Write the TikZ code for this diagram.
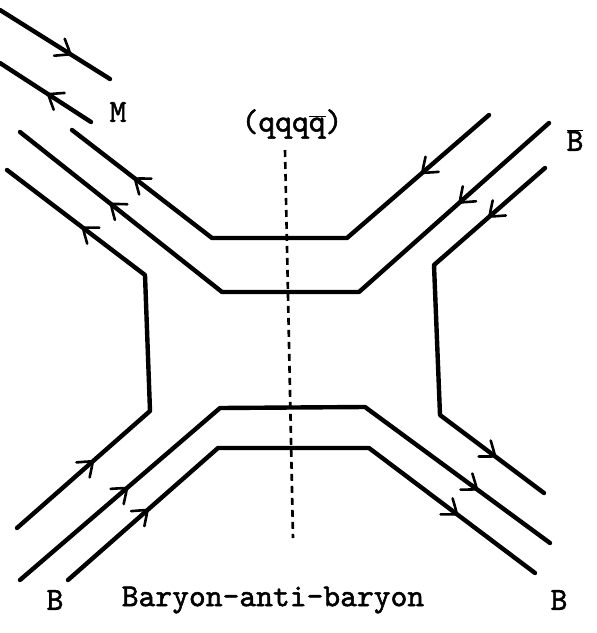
\documentclass[tikz,border=0pt]{standalone}
\usepackage{fontspec}
\newfontfamily\typewriter{lmmono10-regular.otf}[FakeBold=1.6]
\usetikzlibrary{decorations.markings}
\newcommand\barred[1]{$\overline{\hbox{#1}}$}
\tikzset{
  quark/.style={line width=4.4pt,line cap=round,line join=round},
  flow/.style={decoration={markings,mark=at position #1 with {\draw[line width=2.6pt,line cap=round,line join=round] (-13pt,10pt) .. controls (-5pt,4pt) .. (0,0) .. controls (-5pt,-4pt) .. (-13pt,-10pt);}},postaction={decorate}},
  cut/.style={line width=2.6pt,dash pattern=on 7pt off 5pt},
  lab/.style={font=\fontsize{32}{34}\selectfont\typewriter,inner sep=0pt}
}
\begin{document}
\begin{tikzpicture}[x=1pt,y=-1pt]
\useasboundingbox (0,0) rectangle (597,633);
% meson lines
\coordinate (m1a) at (0,10);   \coordinate (m1b) at (110,79);
\coordinate (m2a) at (0,63);   \coordinate (m2b) at (91,122);
% line A
\coordinate (a1) at (72,130);  \coordinate (a2) at (212,238);
\coordinate (a3) at (347,238); \coordinate (a4) at (489,115);
% line B
\coordinate (b1) at (20,132);  \coordinate (b2) at (222,292);
\coordinate (b3) at (359,292); \coordinate (b4) at (549,123);
% line C
\coordinate (c1) at (7,170);   \coordinate (c2) at (145,275);
\coordinate (c3) at (150,411); \coordinate (c4) at (17,528);
% line D
\coordinate (d1) at (545,168); \coordinate (d2) at (434,265);
\coordinate (d3) at (440,415); \coordinate (d4) at (544,493);
% line E
\coordinate (e1) at (20,580);  \coordinate (e2) at (220,408);
\coordinate (e3) at (365,407); \coordinate (e4) at (550,543);
% line F
\coordinate (f1) at (68,580);  \coordinate (f2) at (218,448);
\coordinate (f3) at (369,448); \coordinate (f4) at (535,573);
% cut
\coordinate (k1) at (285,150); \coordinate (k2) at (293,538);

\draw[quark] (m1a) -- (m1b);
\draw[quark] (m2a) -- (m2b);
\draw[quark] (a1) -- (a2) -- (a3) -- (a4);
\draw[quark] (b1) -- (b2) -- (b3) -- (b4);
\draw[quark] (c1) -- (c2) -- (c3) -- (c4);
\draw[quark] (d1) -- (d2) -- (d3) -- (d4);
\draw[quark] (e1) -- (e2) -- (e3) -- (e4);
\draw[quark] (f1) -- (f2) -- (f3) -- (f4);

% arrows
\path[flow=0.64] (m1a) -- (m1b);
\path[flow=0.47] (m2b) -- (m2a);
\path[flow=0.55] (a2) -- (a1);
\path[flow=0.47] (a4) -- (a3);
\path[flow=0.55] (b2) -- (b1);
\path[flow=0.47] (b4) -- (b3);
\path[flow=0.45] (c2) -- (c1);
\path[flow=0.57] (c4) -- (c3);
\path[flow=0.50] (d1) -- (d2);
\path[flow=0.53] (d3) -- (d4);
\path[flow=0.535] (e1) -- (e2);
\path[flow=0.605] (e3) -- (e4);
\path[flow=0.53] (f1) -- (f2);
\path[flow=0.53] (f3) -- (f4);

\draw[cut] (k1) -- (k2);

% labels
\node[lab] (M) at (118,112) {M};
\node[lab] (state) at (292,124) {(qqq\barred{q})};
\node[lab] (Bbar) at (575,140) {\barred{B}};
\node[lab] (Bl) at (55,600) {B};
\node[lab] (title) at (273,600) {Baryon-anti-baryon};
\node[lab] (Br) at (559,600) {B};
\end{tikzpicture}
\end{document}
